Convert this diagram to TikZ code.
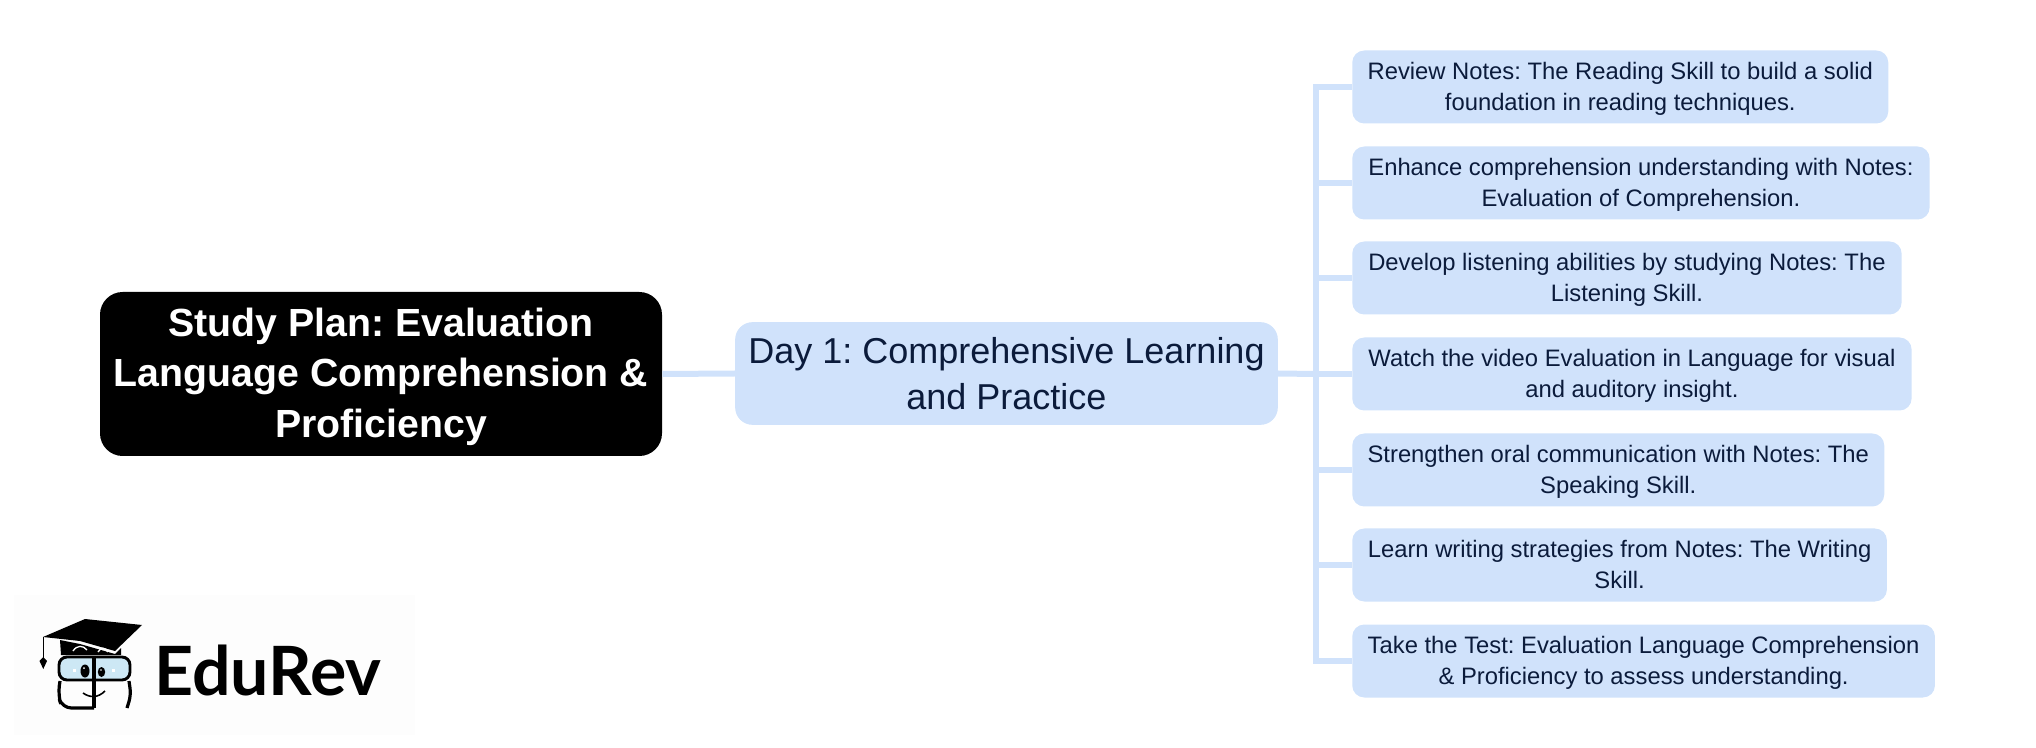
\documentclass[tikz,border=0pt]{standalone}
\usepackage{fontspec}
\setmainfont{Liberation Sans}
\newfontfamily\logofont{Lato}
\frenchspacing
\definecolor{boxblue}{HTML}{D0E2FB}
\definecolor{inkblue}{HTML}{0B1B3B}
\definecolor{lensblue}{HTML}{CDE8F5}
\definecolor{logoback}{HTML}{FDFDFD}
\tikzset{
    rootbox/.style={fill=black,text=white,rounded corners=17pt,inner sep=0pt,align=center,
        text depth=2pt,font=\fontsize{29.45}{38}\selectfont\bfseries},
    daybox/.style={fill=boxblue,text=inkblue,rounded corners=13pt,inner sep=0pt,align=center,
        font=\fontsize{27}{35}\selectfont},
    taskbox/.style={fill=boxblue,text=inkblue,rounded corners=9pt,inner sep=0pt,align=center,
        anchor=west,minimum height=54.75pt,text depth=0.6pt,font=\fontsize{17.85}{23.3}\selectfont},
    branch/.style={draw=boxblue,line width=4.5pt},
}
\begin{document}
\begin{tikzpicture}[x=0.75pt,y=-0.75pt]
                \useasboundingbox (0,0) rectangle (2036,748);
                % logo
                \fill [logoback] (14,595) rectangle (415,735);
                \fill [black] (43,637) -- (85,619) -- (142,625) -- (115,651) -- (80,641) -- cycle;
                \fill [black] (60,640) -- (61,655) -- (121,655) -- (121,648) -- (115,654) -- (80,644) -- cycle;
                \draw [line width=1pt] (43.3,637) -- (43.3,658);
                \fill [black] (43.3,669) -- (39.5,661) -- (43.3,657) -- (47,661) -- cycle;
                \draw [fill=lensblue,line width=2.2pt,rounded corners=6pt] (59,657) rectangle (130,680);
                \draw [line width=2.4pt,rounded corners=7pt] (94,708) -- (62,708) -- (58,695) -- (60,681);
                \draw [line width=2.4pt,rounded corners=5pt] (127,708) -- (131,695) -- (129,681);
                \draw [line width=2.4pt] (94,657) -- (94,708);
                \fill [white] (72.5,668.5) rectangle (76,672);
                \fill [white] (111.5,668.5) rectangle (115,672);
                \fill [black] (85,671) ellipse [x radius=4.5,y radius=6.5];
                \fill [black] (101.5,672) ellipse [x radius=3.7,y radius=5];
                \fill [white] (84,668) circle [radius=1];
                \fill [white] (101,670) circle [radius=0.8];
                \draw [line width=1.2pt] (83,693) .. controls (90,698) and (98,698) .. (105,691);
                \draw [white,line width=1pt] (73,651) .. controls (77,645) and (83,645) .. (87,650);
                \draw [white,line width=1pt] (98,652) .. controls (101,647) and (105,647) .. (108,652);
                \node [anchor=base west,inner sep=0pt,font=\fontsize{51}{51}\logofont\bfseries] (logotext) at (154,695) {EduRev};
                % main boxes
                \node [rootbox,minimum width=421.5pt,minimum height=123pt] (root) at (381,374) {Study Plan: Evaluation\\Language Comprehension \&\\Proficiency};
                \node [daybox,minimum width=407pt,minimum height=77pt] (day) at (1006.5,373.5) {Day 1: Comprehensive Learning\\and Practice};
                \coordinate (hub) at (1315.5,374);
                % tasks
                \node [taskbox,minimum width=402pt] (task1) at (1352,87) {Review Notes: The Reading Skill to build a solid\\foundation in reading techniques.};
                \node [taskbox,minimum width=433pt] (task2) at (1352,183) {Enhance comprehension understanding with Notes:\\Evaluation of Comprehension.};
                \node [taskbox,minimum width=412pt] (task3) at (1352,278) {Develop listening abilities by studying Notes: The\\Listening Skill.};
                \node [taskbox,minimum width=419.5pt] (task4) at (1352,374) {Watch the video Evaluation in Language for visual\\and auditory insight.};
                \node [taskbox,minimum width=399pt] (task5) at (1352,470) {Strengthen oral communication with Notes: The\\Speaking Skill.};
                \node [taskbox,minimum width=401pt] (task6) at (1352,565) {Learn writing strategies from Notes: The Writing\\Skill.};
                \node [taskbox,minimum width=437pt] (task7) at (1352,661) {Take the Test: Evaluation Language Comprehension\\\& Proficiency to assess understanding.};
                % connectors
                \draw [branch] (root.east) -- (day.west);
                \draw [branch] (day.east) -- (hub);
                \foreach \i in {1,...,7}
                    \draw [branch] (hub) |- (task\i.west);
            \end{tikzpicture}
\end{document}
